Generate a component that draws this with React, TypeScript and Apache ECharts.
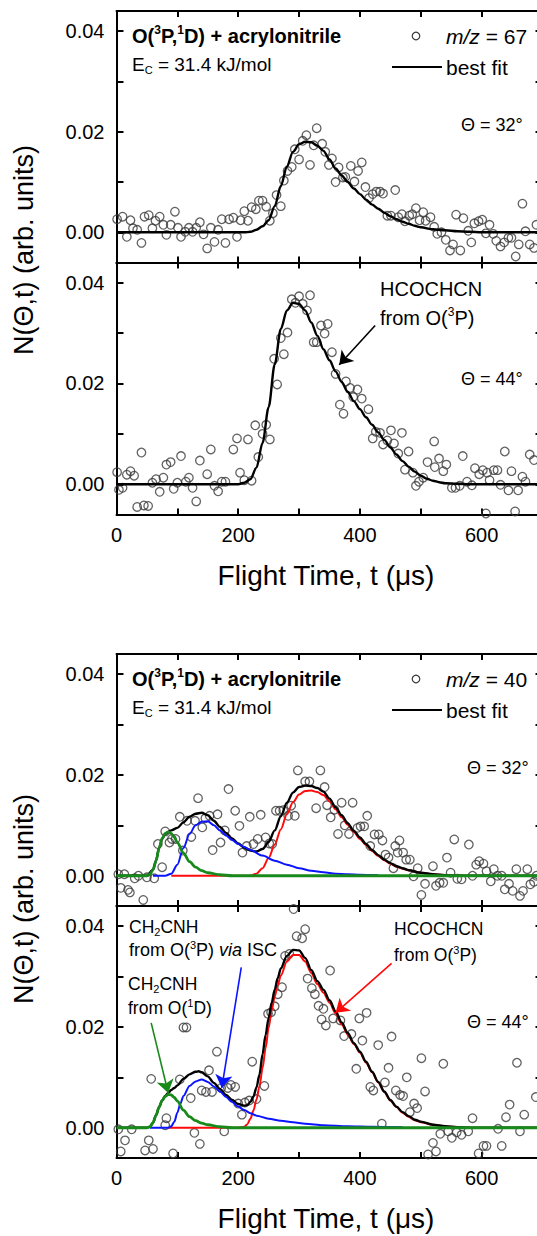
import React, { useEffect, useRef } from "react";
import * as echarts from "echarts";

const FONT = "Arial, 'Liberation Sans', Helvetica, sans-serif";

// ---------- axis ticks / labels ----------
const xTickLabels = [0, 200, 400, 600];
const yTickLabels = [0, 0.02, 0.04];
const X_RANGE = [0, 700];
const Y_RANGE = [-0.006, 0.044];

// ---------- Figure 1 (m/z = 67) ----------
const dataA32: [number, number][] = [
  [1,0.0026],[10,0.0031],[17,-0.0009],[23,0.0024],[27,0.0008],[34,0.0005],[41,-0.0021],[46,0.0031],[53,0.0034],[59,0.0008],
  [64,0.0023],[71,0.0031],[77,0.0015],[82,-0.0005],[89,0.0015],[96,0.0041],[101,0.0009],[106,-0.0009],[113,0.0001],[119,0.0009],
  [125,0.0001],[131,0.0009],[137,0.002],[143,-0.0004],[149,-0.0032],[155,0.0009],[161,-0.0019],[167,0.0005],[173,0.0026],[179,-0.0021],
  [185,0.0026],[192,0.0029],[198,-0.0009],[204,0.0024],[210,0.0042],[216,0.0023],[222,0.005],[229,0.0046],[234,0.0063],[240,0.0063],
  [246,0.0051],[252,0.0023],[257,0.0038],[263,0.0074],[270,0.0052],[275,0.0103],[281,0.0122],[288,0.013],[293,0.0165],[300,0.0145],
  [306,0.0182],[312,0.0193],[318,0.0134],[324,0.0173],[329,0.0207],[338,0.0176],[343,0.016],[349,0.0134],[354,0.0147],[360,0.01],
  [365,0.0129],[372,0.0109],[376,0.011],[385,0.0132],[391,0.0101],[397,0.0122],[403,0.0139],[409,0.009],[415,0.0068],[421,0.0076],
  [427,0.0081],[433,0.0081],[438,0.0077],[445,0.0033],[451,0.0033],[458,0.0084],[463,0.003],[469,0.0036],[474,0.0022],[481,0.0033],
  [486,0.0036],[492,0.0048],[498,0.0024],[504,0.004],[508,0.0023],[516,0.003],[522,0.0011],[527,-0.0003],[534,0],[541,-0.0015],
  [548,-0.0036],[553,-0.0024],[558,0.0035],[565,-0.0036],[570,0.0028],[578,0.0003],[583,-0.002],[588,0.0018],[595,0.0022],[601,0.0025],
  [607,-0.0002],[613,0.0015],[619,-0.0003],[624,-0.0017],[631,-0.0028],[637,-0.002],[644,-0.0011],[649,-0.0011],[656,-0.0048],[661,-0.0024],
  [667,0.0057],[672,0.0002],[679,-0.0024],[686,-0.0031],[690,0.0015],
];
const fitA32: [number, number][] = [
  [0,0],[210,0],[220,0.0001],[230,0.0005],[240,0.0012],[250,0.0024],[260,0.0052],[270,0.0092],[280,0.0131],[290,0.016],
  [300,0.0175],[310,0.018],[320,0.0179],[330,0.0172],[340,0.0162],[350,0.0145],[360,0.0127],[370,0.0113],[380,0.01],[390,0.0087],
  [400,0.0076],[410,0.0065],[420,0.0055],[430,0.0047],[440,0.0039],[450,0.0032],[460,0.0026],[470,0.0021],[480,0.0017],[490,0.0013],
  [500,0.001],[520,0.0006],[540,0.0004],[560,0.0002],[580,0.0001],[600,0],[700,0],
];
const dataA44: [number, number][] = [
  [1,0.0024],[4,-0.0011],[10,-0.0007],[17,0.0019],[23,0.0026],[29,0.0017],[34,-0.0045],[41,0.0063],[45,-0.0042],[52,-0.0043],
  [59,0.0003],[65,0.001],[71,-0.0015],[77,0.0013],[82,0.0039],[89,0.0044],[94,-0.0009],[100,0.0003],[106,0.0056],[114,0.0005],
  [119,0.0013],[125,-0.0007],[131,-0.0034],[137,0.0047],[149,0.002],[155,0.0069],[161,-0.0003],[167,-0.0014],[173,0.0005],[179,0.0005],
  [192,0.0069],[198,0.0091],[203,0.0023],[210,0.0008],[216,0.0089],[222,0.0007],[228,0.0117],[233,0.0054],[240,0.01],[246,0.0118],
  [252,0.0089],[259,0.0249],[264,0.0198],[270,0.029],[275,0.0258],[281,0.0301],[288,0.0367],[294,0.036],[300,0.0373],[306,0.0358],
  [313,0.0345],[318,0.0375],[324,0.0282],[329,0.0282],[336,0.0315],[342,0.0299],[347,0.0318],[354,0.0262],[360,0.0219],[367,0.0158],
  [373,0.014],[377,0.0204],[384,0.0191],[389,0.0173],[396,0.0188],[403,0.017],[414,0.0149],[421,0.0091],[426,0.0104],[433,0.0102],
  [438,0.0079],[445,0.0087],[451,0.0107],[456,0.0081],[463,0.0061],[469,0.0102],[474,0.0029],[480,0.0065],[487,0.0023],[492,-0.0003],
  [497,0.0005],[504,0.0013],[511,0.0044],[522,0.0085],[523,0.0034],[530,0.0051],[537,0.0026],[542,0.0039],[551,-0.0007],[557,-0.0007],
  [564,-0.0003],[569,0.0056],[576,0.0005],[584,-0.0002],[589,0.0032],[596,0.002],[602,0.0028],[607,-0.0058],[609,0.0023],[613,0.0008],
  [620,0.0028],[626,0.0028],[631,-0.0001],[638,0.0065],[644,-0.0012],[649,0.0026],[655,-0.0054],[660,-0.0012],[667,0.0015],[672,0.0005],
  [679,0.0059],[686,0.0048],
];
const fitA44: [number, number][] = [
  [0,0],[200,0],[210,0.0003],[220,0.001],[230,0.0033],[240,0.0082],[250,0.0153],[260,0.0238],[270,0.0308],[280,0.0345],
  [290,0.036],[300,0.0358],[310,0.0345],[320,0.0321],[330,0.0295],[340,0.0268],[350,0.0246],[360,0.0224],[370,0.0203],[380,0.0183],
  [390,0.0165],[400,0.0149],[410,0.0133],[420,0.0118],[430,0.0103],[440,0.0088],[450,0.0073],[460,0.0059],[470,0.0046],[480,0.0035],
  [490,0.0025],[500,0.0017],[510,0.0011],[520,0.0007],[530,0.0004],[540,0.0002],[560,0.0001],[580,0],[700,0],
];

// ---------- Figure 2 (m/z = 40) ----------
const dataB32: [number, number][] = [
  [3,0.0003],[7,-0.0024],[13,0.0003],[19,-0.0028],[22,-0.0033],[30,-0.0005],[36,0],[44,-0.0048],[50,-0.0003],[62,-0.0005],
  [68,0.0063],[75,0.0017],[80,0.0088],[87,0.0066],[91,0.0073],[97,0.0073],[104,0.0117],[109,0.005],[116,0.0109],[123,0.0077],
  [129,0.0109],[134,0.0154],[141,0.0096],[146,0.0114],[153,0.0119],[158,0.0051],[166,0.0122],[171,0.0066],[178,0.009],[184,0.0172],
  [195,0.0129],[202,0.0099],[207,0.0046],[214,0.0059],[219,0.0117],[225,0.0063],[232,0.0073],[237,0.0121],[245,0.0076],[251,0.0064],
  [256,0.0063],[262,0.0129],[268,0.0129],[274,0.013],[282,0.0119],[287,0.0139],[293,0.0119],[298,0.0209],[310,0.0187],[317,0.0187],
  [328,0.0134],[335,0.0209],[342,0.0176],[346,0.014],[352,0.0116],[358,0.0131],[364,0.0083],[370,0.0145],[375,0.01],[382,0.0083],
  [388,0.0145],[396,0.0095],[401,0.0098],[407,0.0098],[412,0.0119],[417,0.0059],[424,0.0082],[431,0.0082],[437,0.007],[442,0.0042],
  [447,0.0036],[455,0.0015],[458,0.0059],[462,0.0046],[465,0.007],[471,0.0046],[476,0.0032],[482,0.0032],[488,-0.0001],[495,0.0015],
  [501,-0.0038],[507,-0.0016],[520,0.0019],[525,-0.002],[531,-0.0014],[537,-0.0014],[543,0.0036],[549,0.0006],[555,0.0072],[560,-0.0006],
  [567,-0.0007],[579,0.0062],[585,0],[591,0.0022],[596,0.0029],[603,0.0024],[608,0.0009],[615,-0.0011],[620,0.0013],[626,0],
  [633,0],[638,-0.0027],[645,-0.0016],[651,-0.003],[657,0.0013],[663,-0.004],[668,-0.003],[675,0.0013],[680,-0.0017],[686,-0.0012],[690,0],
];
const totalB32: [number, number][] = [
  [0,0],[50,0],[60,0.0012],[65,0.003],[70,0.0055],[75,0.0073],[80,0.0083],[90,0.009],[100,0.0095],[110,0.0106],
  [120,0.0117],[130,0.0123],[140,0.0125],[150,0.012],[160,0.0109],[170,0.0097],[180,0.0085],[190,0.0074],[200,0.0064],[210,0.0056],
  [220,0.005],[230,0.0048],[240,0.0053],[250,0.0067],[260,0.009],[270,0.0118],[280,0.0145],[290,0.0165],[300,0.0176],[310,0.0179],
  [320,0.0178],[330,0.0174],[340,0.0167],[350,0.0153],[360,0.0136],[370,0.012],[380,0.0104],[390,0.0089],[400,0.0076],[410,0.0063],
  [420,0.0051],[430,0.0041],[440,0.0032],[450,0.0025],[460,0.0019],[470,0.0015],[480,0.0011],[500,0.0006],[520,0.0003],[540,0.0001],
  [560,0],[700,0],
];
const redB32: [number, number][] = [
  [90,0],[220,0],[230,0.0004],[240,0.0015],[250,0.0035],[260,0.0062],[270,0.0092],[280,0.0122],[290,0.0146],[300,0.0161],
  [310,0.0168],[320,0.0169],[330,0.0166],[340,0.016],[350,0.0148],[360,0.0132],[370,0.0116],[380,0.0101],[390,0.0087],[400,0.0073],
  [410,0.0061],[420,0.0049],[430,0.0039],[440,0.0031],[450,0.0024],[460,0.0018],[470,0.0014],[480,0.0011],[500,0.0006],[520,0.0003],
  [540,0.0001],[560,0],
];
const blueB32: [number, number][] = [
  [60,0],[80,0],[90,0.0004],[100,0.0022],[110,0.0055],[120,0.0083],[130,0.01],[140,0.0107],[150,0.0108],[160,0.01],
  [170,0.009],[180,0.008],[190,0.0071],[200,0.0063],[210,0.0057],[220,0.0051],[240,0.004],[260,0.003],[280,0.0022],[300,0.0015],
  [320,0.001],[340,0.0007],[360,0.0004],[380,0.0003],[400,0.0002],[430,0.0001],
];
const greenB32: [number, number][] = [
  [0,0],[50,0],[55,0.0003],[60,0.0012],[65,0.003],[70,0.0055],[75,0.0074],[80,0.0084],[85,0.0087],[90,0.0084],
  [95,0.0076],[100,0.0066],[110,0.0045],[120,0.0028],[130,0.0017],[140,0.001],[150,0.0006],[170,0.0002],[190,0],[700,0],
];

const dataB44: [number, number][] = [
  [3,-0.0003],[7,-0.0047],[14,-0.0025],[25,-0.0003],[47,-0.0045],[53,-0.0025],[57,0.0097],[60,-0.0042],[80,0.0005],[82,0.0019],
  [93,-0.0051],[104,0.0096],[110,0.0199],[115,0.0199],[122,0.0059],[128,-0.001],[137,-0.0032],[140,0.0074],[147,0.0071],[152,0.0114],
  [157,0.0071],[165,0.0151],[172,0.0079],[177,-0.0007],[183,0.0079],[188,0.0085],[195,0.0081],[200,0.0048],[206,0.0026],[211,0.005],
  [218,0.0054],[223,0.0131],[230,0.0057],[243,0.0083],[249,0.0226],[254,0.0229],[260,0.0241],[265,0.0265],[272,0.0279],[277,0.0341],
  [284,0.0345],[291,0.0434],[296,0.038],[305,0.0376],[310,0.0394],[314,0.0296],[321,0.0277],[326,0.0265],[332,0.0242],[337,0.0215],
  [340,0.0236],[344,0.0203],[351,0.0312],[356,0.0217],[368,0.0213],[374,0.0182],[386,0.0186],[394,0.0117],[399,0.0217],[404,0.0173],
  [411,0.0228],[417,0.0081],[422,0.0074],[430,0.0164],[436,0.0008],[441,0.009],[447,0.0119],[452,0.0181],[459,0.0074],[466,0.0065],
  [471,0.0063],[477,0.01],[482,0.0031],[489,0.0048],[494,0.0039],[501,0.0138],[507,0.0072],[512,-0.0053],[520,-0.003],[525,-0.0047],
  [532,-0.0012],[537,0.0127],[545,-0.0007],[551,-0.002],[559,-0.0009],[567,-0.0014],[578,-0.0007],[585,0.0019],[595,-0.0051],[603,-0.0036],
  [608,-0.0036],[627,-0.0002],[633,-0.0036],[640,0.0021],[646,0.0046],[658,0.0129],[663,-0.0007],[670,0.0026],[689,0.0061],
];
const totalB44: [number, number][] = [
  [0,0],[50,0],[55,0.0002],[60,0.001],[65,0.0025],[70,0.0041],[75,0.0054],[80,0.0063],[85,0.0069],[90,0.0075],
  [95,0.0079],[100,0.0084],[110,0.0097],[120,0.0106],[130,0.0111],[135,0.0112],[140,0.011],[150,0.0102],[160,0.0089],[170,0.0077],
  [180,0.0065],[190,0.0055],[200,0.0047],[210,0.0044],[215,0.0045],[220,0.0051],[225,0.0062],[230,0.008],[235,0.0106],[240,0.0146],
  [245,0.0184],[250,0.0218],[255,0.0248],[260,0.0274],[265,0.0297],[270,0.0316],[280,0.0341],[290,0.0353],[300,0.0352],[310,0.0337],
  [320,0.0313],[330,0.0291],[340,0.0274],[350,0.0253],[360,0.0231],[370,0.0209],[380,0.0188],[390,0.0168],[400,0.0151],[410,0.0131],
  [420,0.0111],[430,0.0091],[440,0.0072],[450,0.0055],[460,0.0042],[470,0.0031],[480,0.0023],[490,0.0016],[500,0.0012],[520,0.0006],
  [540,0.0003],[560,0.0001],[580,0],[700,0],
];
const redB44: [number, number][] = [
  [85,0],[200,0],[210,0.0002],[215,0.0007],[220,0.0018],[225,0.0034],[230,0.0056],[235,0.0083],[240,0.0118],[245,0.0158],
  [250,0.0198],[255,0.0233],[260,0.026],[265,0.0283],[270,0.0302],[280,0.033],[290,0.0343],[300,0.0343],[310,0.033],[320,0.0307],
  [330,0.0285],[340,0.0268],[350,0.0248],[360,0.0227],[370,0.0205],[380,0.0185],[390,0.0166],[400,0.0149],[410,0.0129],[420,0.011],
  [430,0.009],[440,0.0071],[450,0.0054],[460,0.0041],[470,0.003],[480,0.0022],[490,0.0015],[500,0.0011],[520,0.0006],[540,0.0003],
  [560,0.0001],[580,0],
];
const blueB44: [number, number][] = [
  [55,0],[85,0],[90,0.0003],[95,0.0012],[100,0.003],[105,0.0048],[110,0.0063],[120,0.0083],[130,0.0092],[140,0.0096],
  [150,0.0091],[160,0.0082],[170,0.0072],[180,0.0061],[190,0.0051],[200,0.0042],[210,0.0035],[220,0.0029],[230,0.0024],[250,0.0018],
  [270,0.0014],[290,0.0011],[310,0.0008],[340,0.0005],[380,0.0003],[420,0.0002],[470,0.0001],
];
const greenB44: [number, number][] = [
  [0,0],[50,0],[55,0.0002],[60,0.001],[65,0.0025],[70,0.0041],[75,0.0054],[80,0.0062],[85,0.0066],[90,0.0065],
  [95,0.006],[100,0.0053],[110,0.0035],[120,0.0022],[130,0.0014],[140,0.0009],[150,0.0006],[170,0.0002],[190,0],[700,0],
];

// annotation arrows (data coordinates: [from, to])
const arrowA44 = [[425, 0.0315], [366, 0.0237]];
const arrowGreenB44 = [[57, 0.0208], [85, 0.0069]];
const arrowBlueB44 = [[205, 0.0318], [173, 0.0079]];
const arrowRedB44 = [[452, 0.0326], [360, 0.0228]];

// ---------- layout ----------
const GRID_LEFT = 116.5;
const GRID_W = 426;
const PANELS = [
  { top: 11, height: 251.5 },
  { top: 262.5, height: 252 },
  { top: 654, height: 252 },
  { top: 906, height: 252 },
];

const GREEN = "#188a1c";
const BLUE = "#0a14ff";
const RED = "#ff0a0a";

function buildOption() {
  const axisLineStyle = { color: "#000", width: 2 };
  const grid = PANELS.map((p) => ({
    left: GRID_LEFT, top: p.top, width: GRID_W, height: p.height,
    containLabel: false, outerBoundsMode: "none",
  }));
  const xAxis: any[] = [];
  const yAxis: any[] = [];
  PANELS.forEach((_, gi) => {
    const showX = gi === 1 || gi === 3;
    xAxis.push({
      type: "value", gridIndex: gi, position: "bottom", min: X_RANGE[0], max: X_RANGE[1], interval: 100,
      axisLine: { show: true, onZero: false, lineStyle: axisLineStyle },
      axisTick: { show: true, inside: true, length: 6, lineStyle: axisLineStyle },
      axisLabel: {
        show: showX, margin: 10, fontSize: 20, color: "#000", fontFamily: FONT,
        formatter: (v: number) => (xTickLabels.indexOf(v) >= 0 ? String(v) : ""),
      },
      splitLine: { show: false },
    });
    xAxis.push({
      type: "value", gridIndex: gi, position: "top", min: X_RANGE[0], max: X_RANGE[1], interval: 100,
      axisLine: { show: true, onZero: false, lineStyle: axisLineStyle },
      axisTick: { show: true, inside: true, length: 6, lineStyle: axisLineStyle },
      axisLabel: { show: false },
      splitLine: { show: false },
    });
    yAxis.push({
      type: "value", gridIndex: gi, position: "left", min: Y_RANGE[0], max: Y_RANGE[1], splitNumber: 5,
      axisLine: { show: true, onZero: false, lineStyle: axisLineStyle },
      axisTick: { show: true, inside: true, length: 7, lineStyle: axisLineStyle },
      axisLabel: {
        show: true, margin: 12, fontSize: 20, color: "#000", fontFamily: FONT,
        formatter: (v: number) => (yTickLabels.some((t) => Math.abs(t - v) < 1e-9) ? Math.abs(v).toFixed(2) : ""),
      },
      splitLine: { show: false },
    });
    yAxis.push({
      type: "value", gridIndex: gi, position: "right", min: Y_RANGE[0], max: Y_RANGE[1], splitNumber: 5,
      axisLine: { show: true, onZero: false, lineStyle: axisLineStyle },
      axisTick: { show: true, inside: true, length: 7, lineStyle: axisLineStyle },
      axisLabel: { show: false },
      splitLine: { show: false },
    });
  });

  const scatter = (gi: number, data: [number, number][]) => ({
    type: "scatter", xAxisIndex: gi * 2, yAxisIndex: gi * 2, data,
    symbol: "circle", symbolSize: 8.5,
    itemStyle: { color: "rgba(255,255,255,0)", borderColor: "#3a3a3a", borderWidth: 1.3 },
    z: 2, silent: true,
  });
  const arrow = (pts: number[][], color: string) => ({
    silent: true, symbol: ["none", "arrow"], symbolSize: 13,
    lineStyle: { color, width: 1.6, type: "solid" },
    itemStyle: { color },
    label: { show: false },
    emphasis: { disabled: true },
    data: [[{ coord: pts[0] }, { coord: pts[1] }]],
  });
  const line = (gi: number, data: [number, number][], color: string, width: number, z: number, markLine?: any) => ({
    type: "line", xAxisIndex: gi * 2, yAxisIndex: gi * 2, data,
    showSymbol: false, symbol: "none", smooth: 0.3, smoothMonotone: "x",
    lineStyle: { color, width }, z, silent: true,
    ...(markLine ? { markLine } : {}),
  });

  const series = [
    scatter(0, dataA32),
    line(0, fitA32, "#000", 2.4, 3),
    scatter(1, dataA44),
    line(1, fitA44, "#000", 2.4, 3, arrow(arrowA44, "#000")),
    scatter(2, dataB32),
    line(2, redB32, RED, 2, 3),
    line(2, totalB32, "#000", 2.4, 4),
    line(2, blueB32, BLUE, 2, 5),
    line(2, greenB32, GREEN, 2.8, 6),
    scatter(3, dataB44),
    line(3, redB44, RED, 2, 3, arrow(arrowRedB44, RED)),
    line(3, totalB44, "#000", 2.4, 4),
    line(3, blueB44, BLUE, 2, 5, arrow(arrowBlueB44, BLUE)),
    line(3, greenB44, GREEN, 2.8, 6, arrow(arrowGreenB44, GREEN)),
  ];

  const txt = (x: number, y: number, text: string, size: number, extra: any = {}) => ({
    type: "text", x, y, z: 100, silent: true,
    style: {
      text, fontSize: size, fontFamily: FONT, fill: "#000",
      align: "left", verticalAlign: "middle", textAlign: "left", textVerticalAlign: "middle",
      ...extra,
    },
  });
  const supRich = (size: number, supSize: number, weight: string, color: string) => ({
    n: { fontSize: size, fontWeight: weight, fontFamily: FONT, color, lineHeight: size + 4 },
    s: { fontSize: supSize, fontWeight: weight, fontFamily: FONT, color, verticalAlign: "top" },
    d: { fontSize: supSize, fontWeight: weight, fontFamily: FONT, color, verticalAlign: "bottom" },
    i: { fontSize: size, fontWeight: weight, fontStyle: "italic", fontFamily: FONT, color, lineHeight: size + 4 },
  });

  const figureTexts = (dy: number, mz: string, thetaX: number, yTitleY: number) => [
    txt(132, 36 + dy, "{n|O(}{s|3}{n|P,}{s|1}{n|D) + acrylonitrile}", 20, { rich: supRich(20, 12, "bold", "#000") }),
    txt(132, 64 + dy, "{n|E}{d|C}{n| = 31.4 kJ/mol}", 19, { rich: supRich(19, 11, "normal", "#000") }),
    { type: "circle", z: 100, silent: true, shape: { cx: 416, cy: 36 + dy, r: 3.8 }, style: { fill: "none", stroke: "#3a3a3a", lineWidth: 1.2 } },
    txt(446, 36 + dy, "{i|m/z}{n| = " + mz + "}", 21, { rich: supRich(21, 12, "normal", "#000") }),
    { type: "line", z: 100, silent: true, shape: { x1: 392, y1: 67 + dy, x2: 442, y2: 67 + dy }, style: { stroke: "#000", lineWidth: 2 } },
    txt(446, 67 + dy, "best fit", 21),
    txt(thetaX, 125 + dy, "Θ = 32°", 18),
    txt(thetaX, 379 + dy, "Θ = 44°", 18),
    txt(326, 575 + dy, "Flight Time, t (μs)", 28, { align: "center", textAlign: "center" }),
    {
      type: "text", x: 24, y: yTitleY, rotation: Math.PI / 2, z: 100, silent: true,
      style: {
        text: "N(Θ,t) (arb. units)", fontSize: 27, fontFamily: FONT, fill: "#000",
        align: "center", verticalAlign: "middle", textAlign: "center", textVerticalAlign: "middle",
      },
    },
  ];

  const graphic = [
    ...figureTexts(0, "67", 461, 250),
    ...figureTexts(643, "40", 467, 899),
    txt(380, 289, "HCOCHCN", 20),
    txt(380, 318, "{n|from O(}{s|3}{n|P)}", 20, { rich: supRich(20, 12, "normal", "#000") }),
    txt(129, 927, "{n|CH}{d|2}{n|CNH}", 17.5, { rich: supRich(17.5, 11, "normal", BLUE) }),
    txt(129, 950, "{n|from O(}{s|3}{n|P) }{i|via}{n| ISC}", 18, { rich: supRich(18, 11, "normal", BLUE) }),
    txt(128, 984, "{n|CH}{d|2}{n|CNH}", 17.5, { rich: supRich(17.5, 11, "normal", GREEN) }),
    txt(128, 1008, "{n|from O(}{s|1}{n|D)}", 17.5, { rich: supRich(17.5, 11, "normal", GREEN) }),
    txt(394, 929, "{n|HCOCHCN}", 17.5, { rich: supRich(17.5, 11, "normal", RED) }),
    txt(394, 955, "{n|from O(}{s|3}{n|P)}", 17.5, { rich: supRich(17.5, 11, "normal", RED) }),
  ];

  return {
    animation: false,
    backgroundColor: "#fff",
    textStyle: { fontFamily: FONT },
    grid, xAxis, yAxis, series, graphic,
  };
}

export default function App() {
  const ref = useRef<HTMLDivElement>(null);
  useEffect(() => {
    if (!ref.current) return;
    const chart = echarts.init(ref.current, undefined, { renderer: "svg" });
    chart.setOption(buildOption() as any);
    return () => chart.dispose();
  }, []);
  return (
    <div
      ref={ref}
      style={{ position: "absolute", left: 0, top: 0, width: 537, height: 1236, background: "#fff" }}
    />
  );
}
